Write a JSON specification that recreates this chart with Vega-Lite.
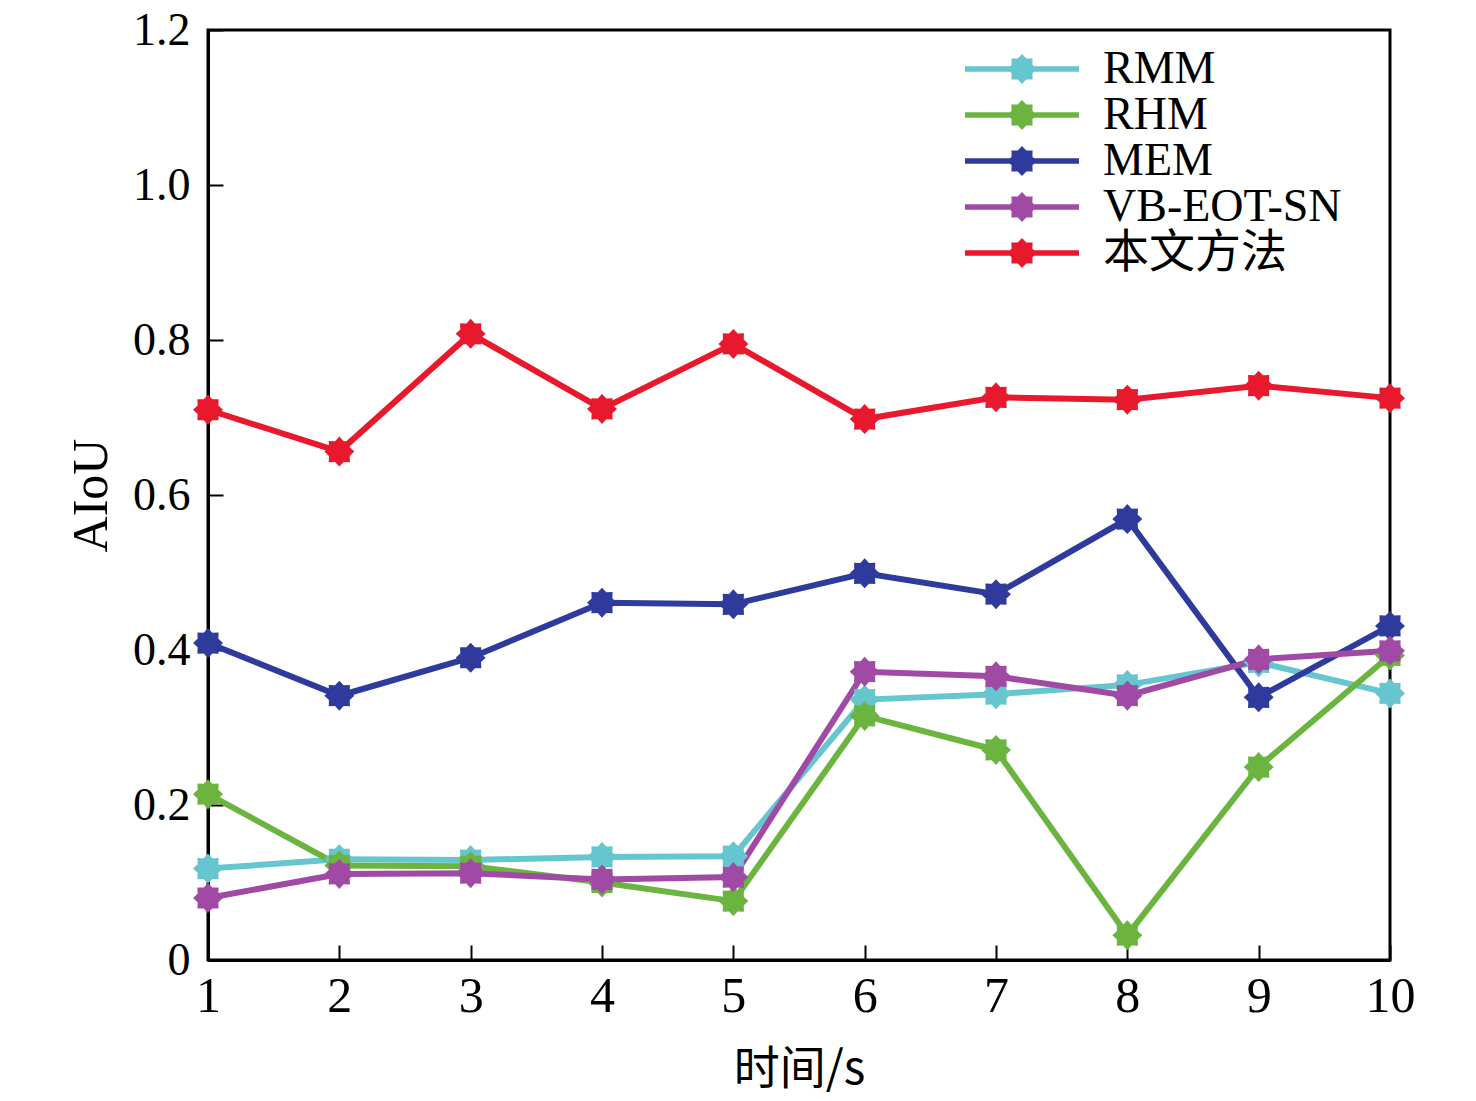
{
  "$schema": "https://vega.github.io/schema/vega-lite/v6.json",
  "width": 1182,
  "height": 930,
  "autosize": {"type": "none"},
  "padding": {"left": 208, "top": 30, "right": 86, "bottom": 141},
  "background": "white",
  "config": {
    "font": "Liberation Serif, Noto Sans CJK SC",
    "view": {"stroke": "black", "strokeWidth": 3},
    "axis": {"grid": false, "domainColor": "black", "domainWidth": 3, "tickColor": "black", "tickWidth": 2, "labelColor": "black", "titleColor": "black", "labelFont": "Liberation Serif", "titleFont": "Liberation Serif, Noto Sans CJK SC", "titleFontWeight": "normal", "labelFontSize": 46, "titleFontSize": 50, "labelFlush": false, "labelOverlap": false}
  },
  "data": {"values": [
    {"t": 1, "method": "RMM", "v": 0.118},
    {"t": 2, "method": "RMM", "v": 0.130},
    {"t": 3, "method": "RMM", "v": 0.129},
    {"t": 4, "method": "RMM", "v": 0.133},
    {"t": 5, "method": "RMM", "v": 0.134},
    {"t": 6, "method": "RMM", "v": 0.336},
    {"t": 7, "method": "RMM", "v": 0.343},
    {"t": 8, "method": "RMM", "v": 0.355},
    {"t": 9, "method": "RMM", "v": 0.384},
    {"t": 10, "method": "RMM", "v": 0.344},
    {"t": 1, "method": "RHM", "v": 0.214},
    {"t": 2, "method": "RHM", "v": 0.122},
    {"t": 3, "method": "RHM", "v": 0.121},
    {"t": 4, "method": "RHM", "v": 0.100},
    {"t": 5, "method": "RHM", "v": 0.076},
    {"t": 6, "method": "RHM", "v": 0.315},
    {"t": 7, "method": "RHM", "v": 0.271},
    {"t": 8, "method": "RHM", "v": 0.032},
    {"t": 9, "method": "RHM", "v": 0.249},
    {"t": 10, "method": "RHM", "v": 0.393},
    {"t": 1, "method": "MEM", "v": 0.409},
    {"t": 2, "method": "MEM", "v": 0.341},
    {"t": 3, "method": "MEM", "v": 0.390},
    {"t": 4, "method": "MEM", "v": 0.461},
    {"t": 5, "method": "MEM", "v": 0.459},
    {"t": 6, "method": "MEM", "v": 0.499},
    {"t": 7, "method": "MEM", "v": 0.472},
    {"t": 8, "method": "MEM", "v": 0.569},
    {"t": 9, "method": "MEM", "v": 0.339},
    {"t": 10, "method": "MEM", "v": 0.431},
    {"t": 1, "method": "VB-EOT-SN", "v": 0.080},
    {"t": 2, "method": "VB-EOT-SN", "v": 0.111},
    {"t": 3, "method": "VB-EOT-SN", "v": 0.112},
    {"t": 4, "method": "VB-EOT-SN", "v": 0.104},
    {"t": 5, "method": "VB-EOT-SN", "v": 0.107},
    {"t": 6, "method": "VB-EOT-SN", "v": 0.372},
    {"t": 7, "method": "VB-EOT-SN", "v": 0.366},
    {"t": 8, "method": "VB-EOT-SN", "v": 0.341},
    {"t": 9, "method": "VB-EOT-SN", "v": 0.388},
    {"t": 10, "method": "VB-EOT-SN", "v": 0.399},
    {"t": 1, "method": "本文方法", "v": 0.710},
    {"t": 2, "method": "本文方法", "v": 0.656},
    {"t": 3, "method": "本文方法", "v": 0.808},
    {"t": 4, "method": "本文方法", "v": 0.711},
    {"t": 5, "method": "本文方法", "v": 0.795},
    {"t": 6, "method": "本文方法", "v": 0.698},
    {"t": 7, "method": "本文方法", "v": 0.726},
    {"t": 8, "method": "本文方法", "v": 0.723},
    {"t": 9, "method": "本文方法", "v": 0.741},
    {"t": 10, "method": "本文方法", "v": 0.725}
  ]},
  "encoding": {
    "x": {"field": "t", "type": "quantitative", "scale": {"domain": [1, 10], "nice": false, "zero": false},
      "axis": {"values": [1,2,3,4,5,6,7,8,9,10], "title": "时间/s", "tickSize": -15, "labelPadding": 26, "labelFontSize": 50, "titlePadding": 26, "titleFont": "Noto Sans CJK SC", "titleFontSize": 46}},
    "y": {"field": "v", "type": "quantitative", "scale": {"domain": [0, 1.2], "nice": false},
      "axis": {"values": [0, 0.2, 0.4, 0.6, 0.8, 1.0, 1.2], "labelExpr": "datum.value == 0 ? '0' : format(datum.value, '.1f')", "title": "AIoU", "tickSize": -15, "labelPadding": 33, "titlePadding": 16}},
    "color": {"field": "method", "type": "nominal",
      "scale": {"domain": ["RMM", "RHM", "MEM", "VB-EOT-SN", "本文方法"], "range": ["#66c6d0", "#6bb43f", "#2e3a9c", "#a04aa6", "#e8192c"]},
      "legend": {"orient": "none", "legendX": 791, "legendY": 16, "title": null, "symbolType": "M-3.8,-0.19L3.8,-0.19L3.8,0.19L-3.8,0.19Z M0,-1L0.287,-0.693L0.707,-0.707L0.693,-0.287L1,0L0.693,0.287L0.707,0.707L0.287,0.693L0,1L-0.287,0.693L-0.707,0.707L-0.693,0.287L-1,0L-0.693,-0.287L-0.707,-0.707L-0.287,-0.693Z", "symbolSize": 900, "symbolOpacity": 1, "symbolStrokeWidth": 0, "labelFontSize": 46, "labelFont": "Liberation Serif, Noto Sans CJK SC", "labelColor": "black", "labelOffset": 58, "labelLimit": 0, "rowPadding": 0}}
  },
  "layer": [
    {"mark": {"type": "line", "strokeWidth": 6}},
    {"mark": {"type": "point", "filled": true, "opacity": 1, "size": 900, "shape": "M0,-1L0.287,-0.693L0.707,-0.707L0.693,-0.287L1,0L0.693,0.287L0.707,0.707L0.287,0.693L0,1L-0.287,0.693L-0.707,0.707L-0.693,0.287L-1,0L-0.693,-0.287L-0.707,-0.707L-0.287,-0.693Z"}}
  ]
}
